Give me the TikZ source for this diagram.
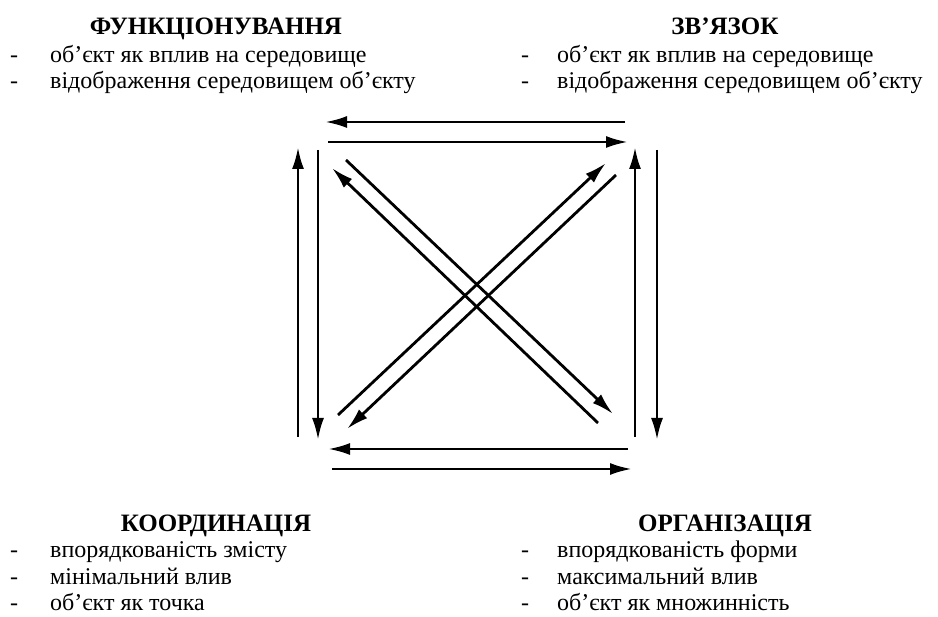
\documentclass[tikz,border=0pt]{standalone}
\usepackage{fontspec}
\setmainfont{Liberation Serif}
\usetikzlibrary{arrows.meta}
\tikzset{
  ttl/.style={font=\fontsize{25}{25}\selectfont\bfseries, anchor=base, inner sep=0pt},
  itm/.style={font=\fontsize{24}{24}\selectfont, anchor=base west, inner sep=0pt},
  dsh/.style={font=\fontsize{24}{24}\selectfont, anchor=base west, inner sep=0pt},
  arr/.style={line width=2.8pt, -{Latex[length=22pt,width=12pt]}},
}
\begin{document}
\begin{tikzpicture}[x=1pt,y=-1pt]
\useasboundingbox (0,0) rectangle (938,617);
% top left
\node[ttl] (t1) at (216,35) {ФУНКЦІОНУВАННЯ};
\node[dsh] (d11) at (10,63) {-};
\node[itm] (l11) at (50,63) {об’єкт як вплив на середовище};
\node[dsh] (d12) at (10,89) {-};
\node[itm] (l12) at (50,89) {відображення середовищем об’єкту};
% top right
\node[ttl] (t2) at (725,35) {ЗВ’ЯЗОК};
\node[dsh] (d21) at (521,63) {-};
\node[itm] (l21) at (557,63) {об’єкт як вплив на середовище};
\node[dsh] (d22) at (521,89) {-};
\node[itm] (l22) at (557,89) {відображення середовищем об’єкту};
% bottom left
\node[ttl] (t3) at (216,532) {КООРДИНАЦІЯ};
\node[dsh] (d31) at (10,558) {-};
\node[itm] (l31) at (50,558) {впорядкованість змісту};
\node[dsh] (d32) at (10,585) {-};
\node[itm] (l32) at (50,585) {мінімальний влив};
\node[dsh] (d33) at (10,611) {-};
\node[itm] (l33) at (50,611) {об’єкт як точка};
% bottom right
\node[ttl] (t4) at (725,532) {ОРГАНІЗАЦІЯ};
\node[dsh] (d41) at (521,558) {-};
\node[itm] (l41) at (557,558) {впорядкованість форми};
\node[dsh] (d42) at (521,585) {-};
\node[itm] (l42) at (557,585) {максимальний влив};
\node[dsh] (d43) at (521,611) {-};
\node[itm] (l43) at (557,611) {об’єкт як множинність};
% arrow endpoints
\coordinate (a1s) at (625,122); \coordinate (a1e) at (325,122);
\coordinate (a2s) at (328,142); \coordinate (a2e) at (628,142);
\coordinate (a3s) at (298,437); \coordinate (a3e) at (298,147);
\coordinate (a4s) at (318,150); \coordinate (a4e) at (318,440);
\coordinate (a5s) at (635,437); \coordinate (a5e) at (635,147);
\coordinate (a6s) at (657,150); \coordinate (a6e) at (657,440);
\coordinate (a7s) at (628,449); \coordinate (a7e) at (328,449);
\coordinate (a8s) at (332,469); \coordinate (a8e) at (632,469);
\coordinate (b1s) at (598,423); \coordinate (b1e) at (332,168);
\coordinate (b2s) at (346,160); \coordinate (b2e) at (613,414);
\coordinate (b3s) at (338,415); \coordinate (b3e) at (606,163);
\coordinate (b4s) at (616,175); \coordinate (b4e) at (347,429);
\foreach \a in {a1,a2,a3,a4,a5,a6,a7,a8,b1,b2,b3,b4}
  \draw[arr] (\a s) -- (\a e);
\end{tikzpicture}
\end{document}
